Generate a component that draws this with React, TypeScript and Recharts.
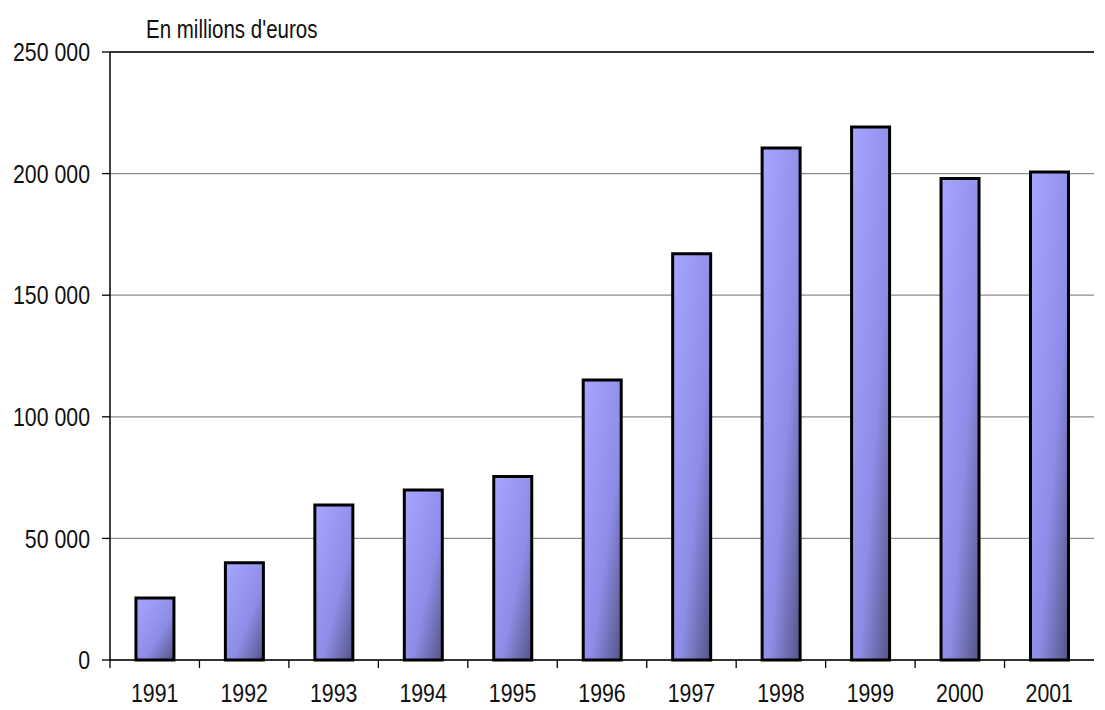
import { Bar, BarChart, CartesianGrid, ReferenceLine, XAxis, YAxis } from "recharts";

const years = ["1991", "1992", "1993", "1994", "1995", "1996", "1997", "1998", "1999", "2000", "2001"];
const amounts = [25500, 40000, 63700, 69900, 75500, 115100, 167000, 210500, 219200, 198000, 200700];
const yTicks = [0, 50000, 100000, 150000, 200000, 250000];

const data = years.map((year, i) => ({ year, value: amounts[i] }));

const W = 1105;
const H = 710;
const plotLeft = 110;
const plotRight = 1094;
const band = (plotRight - plotLeft) / years.length;
// Arial Narrow look-alike: Liberation Sans squeezed to 82 %
const font = "'Liberation Sans', Arial, sans-serif";
const tickFontSize = 26;
const narrow = 0.82;

const fmt = (v: number) => (v === 0 ? "0" : `${Math.round(v / 1000)} 000`);

function XTick(props: any) {
  const { x, y, payload } = props;
  const left = x - band / 2;
  return (
    <g>
      <line x1={left} y1={y} x2={left} y2={y + 8} stroke="#000" strokeWidth={1.3} />
      <text
        transform={`translate(${x},${y + 42}) scale(${narrow},1)`}
        textAnchor="middle"
        fontFamily={font}
        fontSize={tickFontSize}
        fill="#111"
      >
        {payload.value}
      </text>
    </g>
  );
}

function YTick(props: any) {
  const { y, payload } = props;
  return (
    <text
      transform={`translate(90,${y}) scale(${narrow},1)`}
      textAnchor="end"
      dominantBaseline="central"
      fontFamily={font}
      fontSize={tickFontSize}
      fill="#111"
    >
      {fmt(payload.value)}
    </text>
  );
}

export default function App() {
  return (
    <div style={{ position: "absolute", left: 0, top: 0, width: W, height: H, background: "#fff" }}>
      <div
        style={{
          position: "absolute",
          left: 146,
          top: 14,
          fontFamily: font,
          fontSize: 25,
          lineHeight: "30px",
          color: "#111",
          whiteSpace: "nowrap",
          transform: `scaleX(${narrow})`,
          transformOrigin: "left center",
        }}
      >
        En millions d'euros
      </div>
      <BarChart
        width={W}
        height={H}
        data={data}
        margin={{ top: 52, right: W - plotRight, bottom: 0, left: 10 }}
        barCategoryGap="29%"
      >
        <defs>
          <linearGradient id="barFill" x1="0" y1="0" x2="1" y2="1">
            <stop offset="0%" stopColor="#a6a6ff" />
            <stop offset="60%" stopColor="#8d8de8" />
            <stop offset="100%" stopColor="#545484" />
          </linearGradient>
        </defs>
        <CartesianGrid vertical={false} stroke="#8c8c8c" strokeWidth={1.2} />
        <XAxis
          dataKey="year"
          height={50}
          tickSize={0}
          tickMargin={0}
          tickLine={false}
          axisLine={{ stroke: "#000", strokeWidth: 1.5 }}
          tick={<XTick />}
          interval={0}
        />
        <YAxis
          width={100}
          domain={[0, 250000]}
          ticks={yTicks}
          tickSize={8}
          tickMargin={12}
          axisLine={{ stroke: "#000", strokeWidth: 1.5 }}
          tickLine={{ stroke: "#000", strokeWidth: 1.3 }}
          tick={<YTick />}
        />
        <ReferenceLine y={250000} stroke="#000" strokeWidth={1.5} />
        <Bar dataKey="value" fill="url(#barFill)" stroke="#000" strokeWidth={3} isAnimationActive={false} />
      </BarChart>
    </div>
  );
}
